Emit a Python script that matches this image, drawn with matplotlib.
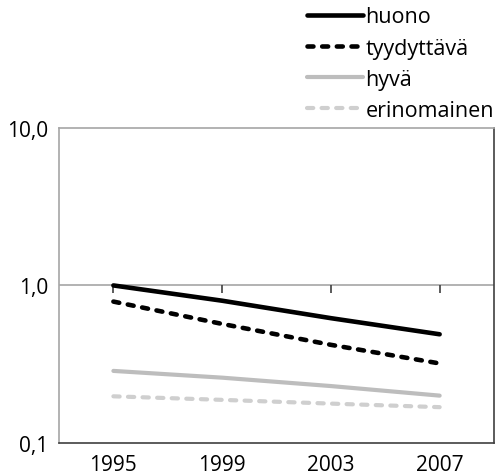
import numpy as np
import matplotlib.pyplot as plt

plt.rcParams['font.family'] = ['Open Sans', 'DejaVu Sans']

years = [1995, 1999, 2003, 2007]
huono = [1.00, 0.80, 0.62, 0.49]
tyydyttava = [0.79, 0.57, 0.42, 0.32]
hyva = [0.287, 0.26, 0.23, 0.20]
erinomainen = [0.198, 0.188, 0.178, 0.169]

ytick_vals = [0.1, 1.0, 10.0]
ytick_labels = ['0,1', '1,0', '10,0']

fig = plt.figure(figsize=(4.96, 4.77), dpi=100)
ax = fig.add_axes([0.119, 0.069, 0.877, 0.661])

# vaakasuora viiva ja tikit kohdassa 1,0
ax.axhline(1.0, color='#a6a6a6', lw=1.2, zorder=1)
ax.plot(years, [1.0] * len(years), ls='none', marker=3, ms=6, mew=1.2,
        color='#404040', zorder=1)

ax.plot(years, huono, color='black', lw=3.3, solid_capstyle='round', label='huono')
ax.plot(years, tyydyttava, color='black', lw=3.3, dashes=(1.3, 1.9),
        dash_capstyle='round', label='tyydyttävä')
ax.plot(years, hyva, color='#bdbdbd', lw=3.0, solid_capstyle='round', label='hyvä')
ax.plot(years, erinomainen, color='#cfcfcf', lw=3.0, dashes=(1.5, 2.0),
        dash_capstyle='round', label='erinomainen')

ax.set_yscale('log')
ax.set_ylim(0.1, 10)
ax.set_xlim(1993, 2009)
ax.set_yticks(ytick_vals)
ax.set_yticklabels(ytick_labels)
ax.minorticks_off()
ax.set_xticks(years)
ax.set_xticklabels([str(y) for y in years])
ax.tick_params(length=0, labelsize=15, pad=8)

for s in ['left', 'top']:
    ax.spines[s].set_color('#a6a6a6')
for s in ['bottom', 'right']:
    ax.spines[s].set_color('#404040')
for s in ax.spines.values():
    s.set_linewidth(1.2)

ax.legend(loc='lower right', bbox_to_anchor=(1.0, 1.022), frameon=False,
          fontsize=15.5, handlelength=2.6, handletextpad=0.1, labelspacing=0.47,
          borderpad=0.0, borderaxespad=0.0)

fig.savefig('out.png', dpi=100)
